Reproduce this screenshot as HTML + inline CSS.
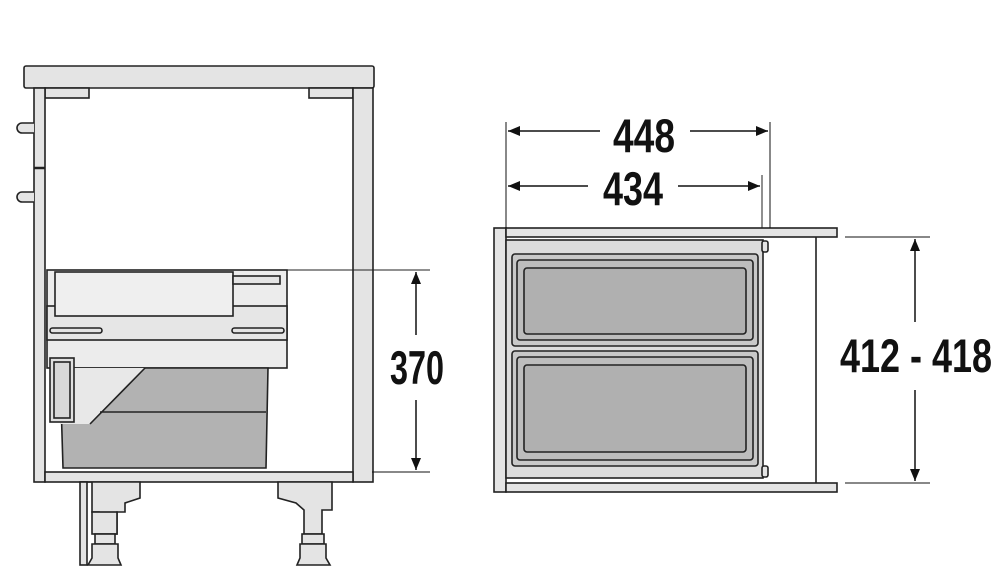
<!DOCTYPE html>
<html><head><style>
html,body{margin:0;padding:0;background:#fff;width:1000px;height:586px;overflow:hidden}
text{font-family:"Liberation Sans",sans-serif;font-weight:bold;fill:#111}
</style></head><body>
<svg width="1000" height="586" viewBox="0 0 1000 586" xmlns="http://www.w3.org/2000/svg">
<defs>
<marker id="a" markerWidth="12" markerHeight="10" refX="12" refY="5" orient="auto-start-reverse" markerUnits="userSpaceOnUse">
<path d="M0,0 L12,5 L0,10 Z" fill="#111"/></marker>
</defs>
<g stroke="#222" stroke-width="1.6" fill="#e4e4e4">
<rect x="24" y="66" width="350" height="22" rx="2"/>
<rect x="45" y="88" width="44" height="10"/>
<rect x="309" y="88" width="44" height="10"/>
<rect x="34" y="88" width="11" height="394"/>
<line x1="34" y1="168" x2="45" y2="168" stroke-width="2.5"/>
<rect x="353" y="88" width="20" height="394"/>
<path d="M34,123 H22 A5,5 0 0 0 22,133 H34"/>
<path d="M34,192 H22 A5,5 0 0 0 22,202 H34"/>
<rect x="45" y="472" width="308" height="10"/>
<rect x="47" y="270" width="240" height="98" fill="#ececec"/>
<rect x="47" y="306" width="240" height="34" fill="#e6e6e6"/>
<path d="M60,368 L268,368 L266,468 L63,468 Z" fill="#b2b2b2"/>
<path d="M60,368 L145,368 L90,424 L60,424 Z" fill="#e8e8e8" stroke="none"/>
<path d="M145,368 L90,424" fill="none"/>
<line x1="100" y1="412" x2="266" y2="412"/>
<rect x="55" y="272" width="178" height="44" fill="#efefef"/>
<rect x="233" y="276" width="47" height="8"/>
<rect x="50" y="358" width="24" height="64" fill="#e0e0e0"/>
<rect x="54" y="362" width="16" height="56" fill="#d8d8d8"/>
<rect x="50" y="328" width="52" height="5" rx="2.5"/>
<rect x="232" y="328" width="52" height="5" rx="2.5"/>
<line x1="282" y1="270" x2="430" y2="270" stroke-width="1"/>
<path d="M80,482 H140 V498 L125,503 V512 H117 V534 H99 V512 H92 V482" fill="#e4e4e4"/>
<rect x="80" y="482" width="7" height="83"/>
<rect x="92" y="512" width="25" height="22"/>
<rect x="95" y="534" width="20" height="10"/>
<path d="M92,544 H118 V558 L121,565 H88 L92,558 Z"/>
<path d="M278,482 H332 V510 H322 V534 H304 V510 L296,503 L278,498 Z"/>
<rect x="302" y="534" width="22" height="10"/>
<path d="M300,544 H326 V558 L330,565 H297 L300,558 Z"/>
<rect x="494" y="228" width="12" height="264"/>
<rect x="506" y="228" width="331" height="9"/>
<rect x="506" y="483" width="331" height="9"/>
<line x1="816" y1="237" x2="816" y2="483"/>
<line x1="762" y1="175" x2="762" y2="228" stroke-width="1"/>
<rect x="506" y="240" width="257" height="238" fill="#dcdcdc"/>
<rect x="762" y="241" width="6" height="11" rx="2"/>
<rect x="762" y="466" width="6" height="11" rx="2"/>
<rect x="512" y="254" width="246" height="92" rx="3" fill="#c8c8c8"/>
<rect x="517" y="260" width="236" height="80" rx="3" fill="#bdbdbd"/>
<rect x="524" y="268" width="222" height="66" rx="3" fill="#b0b0b0"/>
<rect x="512" y="351" width="246" height="115" rx="3" fill="#c8c8c8"/>
<rect x="517" y="357" width="236" height="103" rx="3" fill="#bdbdbd"/>
<rect x="524" y="365" width="222" height="87" rx="3" fill="#b0b0b0"/>
</g>
<g stroke="#111" stroke-width="1.5" fill="none">
<line x1="416" y1="272" x2="416" y2="335" marker-start="url(#a)"/>
<line x1="416" y1="400" x2="416" y2="470" marker-end="url(#a)"/>
<line x1="372" y1="472" x2="430" y2="472" stroke-width="1"/>
<line x1="506" y1="122" x2="506" y2="228" stroke-width="1"/>
<line x1="770" y1="122" x2="770" y2="228" stroke-width="1"/>
<line x1="508" y1="131" x2="600" y2="131" marker-start="url(#a)"/>
<line x1="690" y1="131" x2="768" y2="131" marker-end="url(#a)"/>
<line x1="508" y1="186" x2="588" y2="186" marker-start="url(#a)"/>
<line x1="678" y1="186" x2="760" y2="186" marker-end="url(#a)"/>
<line x1="845" y1="237" x2="930" y2="237" stroke-width="1"/>
<line x1="845" y1="483" x2="930" y2="483" stroke-width="1"/>
<line x1="915" y1="239" x2="915" y2="322" marker-start="url(#a)"/>
<line x1="915" y1="390" x2="915" y2="481" marker-end="url(#a)"/>
</g>
<text x="390" y="384" font-size="47" textLength="54" lengthAdjust="spacingAndGlyphs">370</text>
<text x="613" y="152" font-size="47" textLength="62" lengthAdjust="spacingAndGlyphs">448</text>
<text x="603" y="205" font-size="47" textLength="60" lengthAdjust="spacingAndGlyphs">434</text>
<text x="840" y="372" font-size="47" textLength="152" lengthAdjust="spacingAndGlyphs">412 - 418</text>
</svg>
</body></html>
